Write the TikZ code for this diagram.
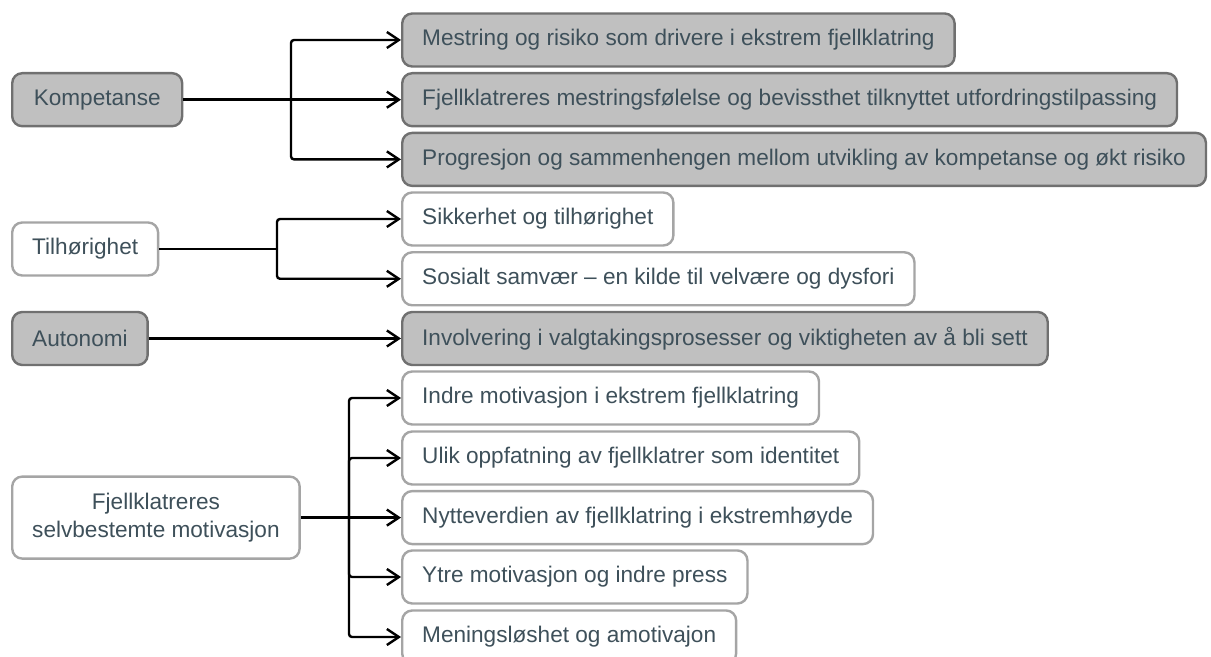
\documentclass[tikz,border=0pt]{standalone}
\usepackage{fontspec}
\setmainfont{Liberation Sans}
\usetikzlibrary{arrows.meta}
\definecolor{boxgray}{RGB}{192,192,192}
\definecolor{edgegray}{RGB}{112,112,112}
\definecolor{edgelight}{RGB}{165,165,165}
\definecolor{textslate}{RGB}{62,80,90}
\begin{document}
\begin{tikzpicture}[x=0.5pt, y=-0.5pt,
    box/.style={rectangle, rounded corners=5pt, line width=1.2pt, text=textslate,
      minimum height=26.5pt, inner xsep=10pt, font=\fontsize{11.3}{14}\selectfont},
    dark/.style={box, draw=edgegray, fill=boxgray},
    light/.style={box, draw=edgelight, fill=white},
    link/.style={->, line width=1.2pt, rounded corners=1.5pt},
    >={Straight Barb[length=6pt,width=8pt]}]
    \useasboundingbox (0,0) rectangle (1211,657);
    \node[dark,anchor=west,minimum width=85pt] (komp) at (11,99.7) {Kompetanse};
    \node[dark,anchor=west] (k1) at (401,40) {Mestring og risiko som drivere i ekstrem fjellklatring};
    \node[dark,anchor=west] (k2) at (401,99.7) {Fjellklatreres mestringsfølelse og bevissthet tilknyttet utfordringstilpassing};
    \node[dark,anchor=west] (k3) at (401,159.4) {Progresjon og sammenhengen mellom utvikling av kompetanse og økt risiko};
    \node[light,anchor=west] (tilh) at (11,249) {Tilhørighet};
    \node[light,anchor=west] (t1) at (401,219) {Sikkerhet og tilhørighet};
    \node[light,anchor=west] (t2) at (401,278.8) {Sosialt samvær – en kilde til velvære og dysfori};
    \node[dark,anchor=west] (auto) at (11,338.5) {Autonomi};
    \node[dark,anchor=west] (a1) at (401,338.5) {Involvering i valgtakingsprosesser og viktigheten av å bli sett};
    \node[light,anchor=west,align=center,minimum height=41pt] (fjell) at (11,517.6) {Fjellklatreres\\selvbestemte motivasjon};
    \node[light,anchor=west] (f1) at (401,398) {Indre motivasjon i ekstrem fjellklatring};
    \node[light,anchor=west] (f2) at (401,458) {Ulik oppfatning av fjellklatrer som identitet};
    \node[light,anchor=west] (f3) at (401,517.6) {Nytteverdien av fjellklatring i ekstremhøyde};
    \node[light,anchor=west] (f4) at (401,577) {Ytre motivasjon og indre press};
    \node[light,anchor=west] (f5) at (401,637) {Meningsløshet og amotivajon};
    \coordinate (kfork) at (291,0);
    \coordinate (tfork) at (277,0);
    \coordinate (ffork) at (349,0);
    \draw[link] (komp.east) -- (k2.west);
    \draw[link] (komp.east -| kfork) |- (k1.west);
    \draw[link] (komp.east -| kfork) |- (k3.west);
    \draw[line width=1.2pt] (tilh.east) -- (tilh.east -| tfork);
    \draw[link] (tilh.east -| tfork) |- (t1.west);
    \draw[link] (tilh.east -| tfork) |- (t2.west);
    \draw[link] (auto.east) -- (a1.west);
    \draw[link] (fjell.east) -- (f3.west);
    \draw[link] (fjell.east -| ffork) |- (f1.west);
    \draw[link] (fjell.east -| ffork) |- (f2.west);
    \draw[link] (fjell.east -| ffork) |- (f4.west);
    \draw[link] (fjell.east -| ffork) |- (f5.west);
\end{tikzpicture}
\end{document}
